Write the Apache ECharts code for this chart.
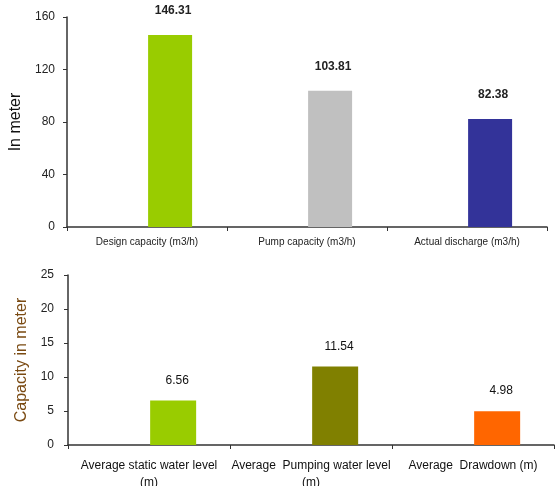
<!DOCTYPE html>
<html>
<head>
<meta charset="utf-8">
<script src="https://cdn.jsdelivr.net/npm/echarts@6/dist/echarts.min.js"></script>
<style>
html,body{margin:0;padding:0;background:#fff;}
#chart{width:555px;height:486px;}
</style>
</head>
<body>
<div id="chart"></div>
<script>
// Top chart data
var topCategories = ['Design capacity (m3/h)', 'Pump capacity (m3/h)', 'Actual discharge (m3/h)'];
var topValues = [146.31, 103.81, 82.38];
var topColors = ['#99cc00', '#c0c0c0', '#333399'];
var topTicks = [0, 40, 80, 120, 160];

// Bottom chart data
var bottomCategories = ['Average static water level\n(m)', 'Average  Pumping water level\n(m)', 'Average  Drawdown (m)'];
var bottomValues = [6.56, 11.54, 4.98];
var bottomColors = ['#99cc00', '#808000', '#ff6600'];
var bottomTicks = [0, 5, 10, 15, 20, 25];

var narrow = '"Liberation Sans Narrow", "Liberation Sans", Arial, sans-serif';
var sans = '"Liberation Sans", Arial, sans-serif';

var chart = echarts.init(document.getElementById('chart'), null, {renderer: 'canvas'});

var option = {
  animation: false,
  backgroundColor: '#ffffff',
  grid: [
    {left: 67, top: 17, width: 480, height: 210, outerBoundsMode: 'none', containLabel: false},
    {left: 68, top: 275, width: 486, height: 170, outerBoundsMode: 'none', containLabel: false}
  ],
  xAxis: [
    {
      type: 'category', gridIndex: 0, data: topCategories,
      axisLine: {lineStyle: {color: '#333', width: 1.5}},
      axisTick: {show: true, length: 4, lineStyle: {color: '#333'}},
      axisLabel: {fontFamily: narrow, fontSize: 10, color: '#222', margin: 10}
    },
    {
      type: 'category', gridIndex: 1, data: bottomCategories,
      axisLine: {lineStyle: {color: '#333', width: 1.5}},
      axisTick: {show: true, length: 4, lineStyle: {color: '#333'}},
      axisLabel: {fontFamily: sans, fontSize: 12, color: '#111', margin: 12, lineHeight: 17, interval: 0}
    }
  ],
  yAxis: [
    {
      type: 'value', gridIndex: 0, min: topTicks[0], max: topTicks[topTicks.length - 1], interval: 40,
      name: 'In meter', nameLocation: 'middle', nameGap: 34,
      nameTextStyle: {fontFamily: sans, fontSize: 16, color: '#111'},
      axisLine: {show: true, lineStyle: {color: '#333', width: 1.5}},
      axisTick: {show: true, length: 4, lineStyle: {color: '#333'}},
      splitLine: {show: false},
      axisLabel: {fontFamily: narrow, fontSize: 12, color: '#222', margin: 12}
    },
    {
      type: 'value', gridIndex: 1, min: bottomTicks[0], max: bottomTicks[bottomTicks.length - 1], interval: 5,
      name: 'Capacity in meter', nameLocation: 'middle', nameGap: 36,
      nameTextStyle: {fontFamily: sans, fontSize: 16, color: '#7a4a12'},
      axisLine: {show: true, lineStyle: {color: '#333', width: 1.5}},
      axisTick: {show: true, length: 4, lineStyle: {color: '#333'}},
      splitLine: {show: false},
      axisLabel: {fontFamily: narrow, fontSize: 12, color: '#222', margin: 14}
    }
  ],
  series: [
    {
      type: 'bar', xAxisIndex: 0, yAxisIndex: 0, barWidth: 44, barGap: '5%',
      data: topValues.map(function(){ return '-'; })
    },
    {
      type: 'bar', xAxisIndex: 0, yAxisIndex: 0, barWidth: 44, barGap: '5%',
      data: topValues.map(function(v, i){ return {value: v, itemStyle: {color: topColors[i]}}; }),
      label: {show: true, position: 'top', distance: 18, offset: [3, 0],
        fontFamily: narrow, fontSize: 12, fontWeight: 'bold', color: '#222',
        formatter: function(p){ return p.value.toFixed(2); }}
    },
    {
      type: 'bar', xAxisIndex: 1, yAxisIndex: 1, barWidth: 46, barGap: '5%',
      data: bottomValues.map(function(){ return '-'; })
    },
    {
      type: 'bar', xAxisIndex: 1, yAxisIndex: 1, barWidth: 46, barGap: '5%',
      data: bottomValues.map(function(v, i){ return {value: v, itemStyle: {color: bottomColors[i]}}; }),
      label: {show: true, position: 'top', distance: 14, offset: [4, 0],
        fontFamily: sans, fontSize: 12, color: '#111',
        formatter: function(p){ return p.value.toFixed(2); }}
    }
  ]
};
chart.setOption(option);
</script>
</body>
</html>
